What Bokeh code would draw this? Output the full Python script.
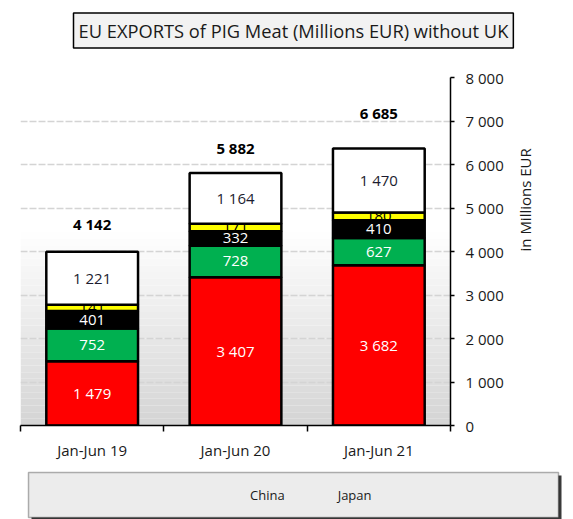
import numpy as np
from bokeh.plotting import figure
from bokeh.layouts import column
from bokeh.models import (ColumnDataSource, Range1d, FixedTicker, BoxAnnotation,
                          Legend, LegendItem, Title)
from bokeh.core.properties import value
from bokeh.embed import file_html
from bokeh.resources import INLINE

# ---------------- data ----------------
periods = ["Jan-Jun 19", "Jan-Jun 20", "Jan-Jun 21"]
china = [1479, 3407, 3682]
japan = [752, 728, 627]
south_korea = [401, 332, 410]
hong_kong = [141, 171, 180]
other = [1221, 1164, 1470]
totals = [4142, 5882, 6685]
series_names = ["China", "Japan", "South Korea", "Hong Kong", "Other"]
series_colors = ["#ff0000", "#00b050", "#000000", "#ffff00", "#ffffff"]
y_ticks = [0, 1000, 2000, 3000, 4000, 5000, 6000, 7000, 8000]
y_tick_labels = ["0", "1 000", "2 000", "3 000", "4 000", "5 000", "6 000", "7 000", "8 000"]
title_text = "EU EXPORTS of PIG Meat (Millions EUR) without UK"
y_title = "in Millions EUR"

FONT = "Open Sans"


def fmt(v):
    return f"{v:,}".replace(",", " ")


n = len(periods)
xc = np.arange(n) + 0.5
series = [china, japan, south_korea, hong_kong, other]
cum = np.cumsum(np.array(series, dtype=float), axis=0)
bottoms = np.vstack([np.zeros(n), cum[:-1]])
tops = cum

src = ColumnDataSource(dict(x=xc, tot_y=np.array(totals) + 500,
                            tot_lab=[fmt(v) for v in totals]))
for i in range(len(series)):
    src.data[f"b{i}"] = bottoms[i]
    src.data[f"t{i}"] = tops[i]
    src.data[f"m{i}"] = (bottoms[i] + tops[i]) / 2
    src.data[f"l{i}"] = [fmt(v) for v in series[i]]

p = figure(width=573, height=459, frame_width=430, frame_height=348,
           x_range=Range1d(0, n), y_range=Range1d(0, 8000),
           output_backend="svg", toolbar_location=None, y_axis_location="right", title=None,
           min_border_left=20, min_border_top=77, min_border_right=123, min_border_bottom=34,
           background_fill_color="white", border_fill_color="white", outline_line_color=None)

# spacer between title box and plot, then the boxed title
p.add_layout(Title(text=" ", text_font_size="1px", standoff=14), "above")
p.add_layout(Title(text=title_text, align="left", offset=53, vertical_align="top", standoff=21,
                   text_font=FONT, text_font_size="18.3px", text_font_style="normal",
                   text_color="#1a1a1a", background_fill_color="#f2f2f2",
                   border_line_color="black", border_line_width=1.5, padding=5), "above")

# background gradient (style only)
nb = 30
for i in range(nb):
    t = i / (nb - 1)
    g = int(round(213 + (255 - 213) * t))
    p.add_layout(BoxAnnotation(bottom=4600 * i / nb, top=4600 * (i + 1) / nb,
                               fill_color=f"#{g:02x}{g:02x}{g:02x}", fill_alpha=1.0,
                               line_color=None, level="image"))

p.xgrid.visible = False
p.ygrid.ticker = FixedTicker(ticks=y_ticks)
p.ygrid.grid_line_color = "#d4d4d4"
p.ygrid.grid_line_dash = "7 2"
p.ygrid.grid_line_width = 1.5

BW = 0.64
for i in range(4):
    p.vbar(x="x", width=BW, bottom=f"b{i}", top=f"t{i}", source=src,
           fill_color=series_colors[i], line_color="black", line_width=2.5)

# Hong Kong labels (mostly hidden, as in the original)
p.text(x="x", y="m3", text="l3", source=src, text_font=value(FONT), text_font_size="15px",
       text_align="center", text_baseline="middle", text_color="black")

p.vbar(x="x", width=BW, bottom="b4", top="t4", source=src,
       fill_color=series_colors[4], line_color="black", line_width=2.5)

label_colors = ["white", "white", "white", None, "#1c1c30"]
for i in [0, 1, 2, 4]:
    p.text(x="x", y=f"m{i}", text=f"l{i}", source=src, text_font=value(FONT),
           text_font_size="15px", text_align="center", text_baseline="middle",
           text_color=label_colors[i])

p.text(x="x", y="tot_y", text="tot_lab", source=src, text_font=value(FONT),
       text_font_size="15px", text_font_style="bold", text_align="center",
       text_baseline="middle", text_color="black")

# x axis
xa = p.xaxis[0]
xa.ticker = FixedTicker(ticks=list(xc), minor_ticks=list(range(n + 1)))
xa.major_label_overrides = {float(v): lab for v, lab in zip(xc, periods)}
xa.major_tick_line_color = None
xa.major_tick_out = 0
xa.major_tick_in = 0
xa.minor_tick_line_color = "black"
xa.minor_tick_line_width = 1.5
xa.minor_tick_out = 6
xa.minor_tick_in = 0
xa.axis_line_color = "black"
xa.axis_line_width = 1.5
xa.major_label_text_font = FONT
xa.major_label_text_font_size = "15px"
xa.major_label_text_color = "#1a1a1a"
xa.major_label_standoff = 8

# y axis (right)
ya = p.yaxis[0]
ya.ticker = FixedTicker(ticks=y_ticks)
ya.major_label_overrides = dict(zip(y_ticks, y_tick_labels))
ya.major_tick_out = 4
ya.major_tick_in = 0
ya.major_tick_line_width = 1.5
ya.minor_tick_line_color = None
ya.axis_line_color = "black"
ya.axis_line_width = 1.5
ya.major_label_text_font = FONT
ya.major_label_text_font_size = "15px"
ya.major_label_text_color = "#1a1a1a"
ya.major_label_standoff = 11
ya.axis_label = y_title
ya.axis_label_orientation = float(np.pi / 2)
ya.axis_label_text_font = FONT
ya.axis_label_text_font_size = "15px"
ya.axis_label_text_font_style = "normal"
ya.axis_label_text_color = "#1a1a1a"
ya.axis_label_standoff = 18

# ---------------- legend strip (separate small figure, pixel-sized ranges) ----------------
LW, LH = 573, 60
p2 = figure(width=LW, height=LH, frame_width=LW, frame_height=LH,
            x_range=Range1d(0, LW), y_range=Range1d(0, LH),
            x_axis_location=None, y_axis_location=None, title=None,
            output_backend="svg", toolbar_location=None, min_border=0,
            background_fill_color="white", border_fill_color="white", outline_line_color=None)
p2.grid.visible = False

# legend frame with shadow (decoration)
p2.add_layout(BoxAnnotation(left=11, right=541, bottom=2, top=47, fill_color="#3a3a3a",
                            fill_alpha=1.0, line_color=None))
p2.add_layout(BoxAnnotation(left=8, right=538, bottom=5, top=50, fill_color="#ececec",
                            fill_alpha=1.0, line_color="black", line_width=1.5))

dummies = []
for c in series_colors:
    dummies.append(p2.vbar(x=[], top=[], width=1, fill_color=c, line_color="black",
                           line_width=2.5))

legend = Legend(items=[LegendItem(label=nm, renderers=[rr]) for nm, rr in zip(series_names, dummies)],
                orientation="horizontal", location=(44, 17), padding=0, margin=0, spacing=38,
                glyph_width=11, glyph_height=13, label_standoff=4, label_height=20,
                label_text_font=FONT, label_text_font_size="13px", label_text_color="#1a1a1a",
                border_line_color=None, background_fill_alpha=0)
p2.add_layout(legend)

layout = column(p, p2, spacing=0)

open("out.html", "w").write(file_html(layout, INLINE))
